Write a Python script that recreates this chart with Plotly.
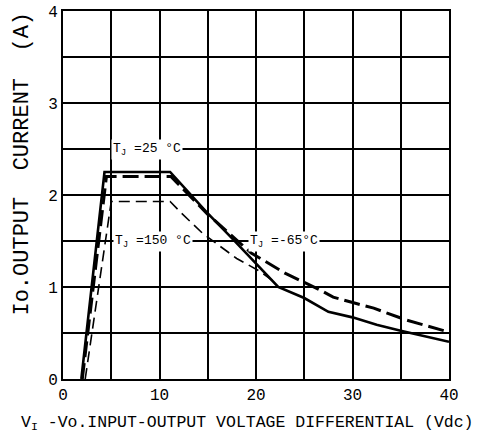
import plotly.graph_objects as go

# Tj = 25 C (solid)
x_25 = [1.9, 4.3, 11.1, 14.9, 17.6, 19.9, 22.3, 25.0, 27.5, 30.0, 32.5, 35.0, 37.5, 40.0]
y_25 = [0.0, 2.25, 2.25, 1.81, 1.52, 1.27, 1.00, 0.88, 0.73, 0.67, 0.59, 0.525, 0.467, 0.405]

# Tj = -65 C (thick dashed)
x_m65 = [2.0, 4.5, 11.2, 15.0, 19.5, 23.0, 26.6, 28.0, 30.4, 32.2, 35.6, 38.0, 40.0]
y_m65 = [0.0, 2.20, 2.20, 1.79, 1.37, 1.15, 0.97, 0.89, 0.82, 0.77, 0.64, 0.57, 0.51]

# Tj = 150 C (thin dashed)
x_150 = [2.3, 5.0, 11.1, 12.3, 14.5, 16.3, 18.0, 20.4, 22.1]
y_150 = [0.0, 1.93, 1.93, 1.80, 1.58, 1.44, 1.31, 1.17, 1.04]

x_ticks = [0, 10, 20, 30, 40]
y_ticks = [0, 1, 2, 3, 4]

labels = ["T<sub>J</sub> =25 °C", "T<sub>J</sub> =150 °C", "T<sub>J</sub> =-65°C"]
label_x = [8.7, 9.3, 22.9]
label_y = [2.5, 1.5, 1.5]

FONT = "Liberation Mono"

fig = go.Figure()
fig.add_trace(go.Scatter(x=x_150, y=y_150, mode="lines",
                         line=dict(color="black", width=1.6, dash="11px,6px"),
                         showlegend=False))
fig.add_trace(go.Scatter(x=x_m65, y=y_m65, mode="lines",
                         line=dict(color="black", width=3, dash="16px,6px"),
                         showlegend=False))
fig.add_trace(go.Scatter(x=x_25, y=y_25, mode="lines",
                         line=dict(color="black", width=2.6),
                         showlegend=False))

for t, lx, ly in zip(labels, label_x, label_y):
    fig.add_annotation(x=lx, y=ly, text=t, showarrow=False, bgcolor="white",
                       borderpad=1, font=dict(family=FONT, size=13, color="black"))

fig.add_annotation(xref="paper", yref="paper", x=-0.104, y=0.585,
                   xanchor="center", yanchor="middle",
                   text="Io.OUTPUT  CURRENT  (A)", textangle=-90, showarrow=False,
                   font=dict(family=FONT, size=22, color="black"))
fig.add_annotation(xref="paper", yref="paper", x=0.479, y=-0.12,
                   xanchor="center", yanchor="middle",
                   text="V<sub>I</sub> -Vo.INPUT-OUTPUT VOLTAGE DIFFERENTIAL (Vdc)",
                   showarrow=False, font=dict(family=FONT, size=16.5, color="black"))

fig.update_xaxes(range=[0, 40], tickvals=x_ticks, automargin=False,
                 showgrid=True, gridcolor="black", gridwidth=1.5,
                 showline=True, linecolor="black", linewidth=2, mirror=True,
                 ticks="", tickfont=dict(family=FONT, size=16, color="black"),
                 zeroline=False)
fig.update_xaxes(minor=dict(dtick=5, showgrid=True, gridcolor="black", gridwidth=1.5))
fig.update_yaxes(range=[0, 4], tickvals=y_ticks, automargin=False,
                 showgrid=True, gridcolor="black", gridwidth=1.5,
                 showline=True, linecolor="black", linewidth=2, mirror=True,
                 ticks="", tickfont=dict(family=FONT, size=16, color="black"),
                 zeroline=False)
fig.update_yaxes(minor=dict(dtick=0.5, showgrid=True, gridcolor="black", gridwidth=1.5))

fig.update_layout(width=487, height=434, margin=dict(l=63, r=38, t=11, b=55),
                  plot_bgcolor="white", paper_bgcolor="white",
                  font=dict(family=FONT, color="black"))

fig.write_html("out.html", config={"displayModeBar": False},
               post_script="document.body.style.margin='0';")
